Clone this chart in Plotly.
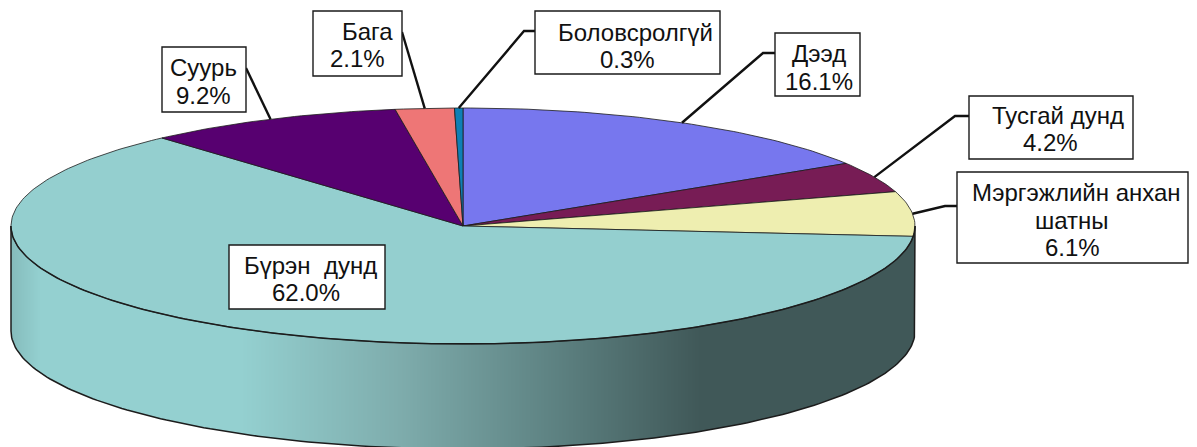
"""3D pie of education level shares, tilted and drawn on pixel sized axes."""

import numpy as np
import plotly.graph_objects as go

# clockwise from 12 o'clock
categories = ["Дээд", "Тусгай дунд", "Мэргэжлийн анхан шатны", "Бүрэн дунд",
              "Суурь", "Бага", "Боловсролгүй"]
shares = [16.1, 4.2, 6.1, 62.0, 9.2, 2.1, 0.3]
colors = ["#7777EE", "#771C55", "#EEEEB0", "#94CFCF", "#570070", "#EE7676", "#0F7FB5"]

# label text lines
label_lines = [
    ["Дээд", "16.1%"],
    ["Тусгай дунд", "4.2%"],
    ["Мэргэжлийн анхан", "шатны", "6.1%"],
    ["Бүрэн\u00a0\u00a0дунд", "62.0%"],
    ["Суурь", "9.2%"],
    ["Бага", "2.1%"],
    ["Боловсролгүй", "0.3%"],
]
# centre of each text line
label_pos = [
    [(819, 53), (819, 81)],
    [(1058, 115), (1050, 142)],
    [(1076, 192), (1072, 220), (1072, 247)],
    [(310, 265), (306, 292)],
    [(203, 67), (203, 95)],
    [(367, 31), (357, 58)],
    [(635, 32), (627, 59)],
]
# x0, y0, x1, y1
label_box = [
    (775, 33, 860, 96),
    (969, 96, 1133, 159),
    (957, 172, 1188, 263),
    (229, 245, 385, 309),
    (162, 47, 246, 112),
    (313, 11, 402, 76),
    (535, 11, 720, 74),
]
# leader path after it leaves the rim, None = no leader
leader_path = [
    [(763, 53), (775, 53)],
    [(955, 116), (969, 116)],
    [(945, 206), (957, 206)],
    None,
    [(246, 68)],
    [(402, 32)],
    [(524, 31), (535, 31)],
]

# side shading, x position -> colour
side_x = [11, 40, 240, 400, 560, 700, 915]
side_rgb = [(133, 188, 188), (148, 208, 208), (148, 208, 208), (126, 172, 172),
            (92, 128, 128), (64, 88, 88), (64, 88, 88)]

CX, CY = 463, 226
RX, RY = 452, 118
DEPTH = 105
EDGE = "#1c1c1c"


def rim(frac):
    angle = 2 * np.pi * np.asarray(frac)
    return CX + RX * np.sin(angle), CY - RY * np.cos(angle)


fig = go.Figure()

# side wall
side_cols = np.arange(CX - RX, CX + RX)
side_top = CY + RY * np.sqrt(np.clip(1 - ((side_cols + 0.5 - CX) / RX) ** 2, 0, 1))
side_colors = [
    "rgb({:.0f},{:.0f},{:.0f})".format(*[np.interp(x, side_x, [c[i] for c in side_rgb]) for i in range(3)])
    for x in side_cols
]
fig.add_trace(go.Bar(
    x=side_cols + 0.5,
    y=[DEPTH] * len(side_cols),
    base=side_top,
    width=1,
    marker=dict(color=side_colors, line_width=0),
    hoverinfo="skip",
))

# outline of the side wall
t = np.linspace(0.25, 0.75, 181)
bx, by = rim(t)
fig.add_trace(go.Scatter(
    x=np.r_[bx[0], bx, bx[-1]],
    y=np.r_[CY, by + DEPTH, CY],
    mode="lines",
    line=dict(color=EDGE, width=1.5),
    hoverinfo="skip",
))

# top slices
edges = np.cumsum([0] + shares) / 100
for i, name in enumerate(categories):
    t = np.linspace(edges[i], edges[i + 1], max(int(shares[i] * 4), 3))
    sx, sy = rim(t)
    fig.add_trace(go.Scatter(
        x=np.r_[CX, sx, CX],
        y=np.r_[CY, sy, CY],
        mode="lines",
        fill="toself",
        fillcolor=colors[i],
        line=dict(color=EDGE, width=0.8),
        name=name,
        hoverinfo="name",
    ))

# heavier front edge of the top face
t = np.linspace(0.25, 0.75, 181)
fx, fy = rim(t)
fig.add_trace(go.Scatter(
    x=fx,
    y=fy,
    mode="lines",
    line=dict(color=EDGE, width=1.5),
    hoverinfo="skip",
))

# leaders from the middle of each slice
mids = (edges[:-1] + edges[1:]) / 2
for i, path in enumerate(leader_path):
    if path is None:
        continue
    mx, my = rim(mids[i])
    fig.add_trace(go.Scatter(
        x=[mx] + [p[0] for p in path],
        y=[my] + [p[1] for p in path],
        mode="lines",
        line=dict(color="#111111", width=2.4),
        hoverinfo="skip",
    ))

# label boxes and text
for box in label_box:
    fig.add_shape(type="rect", x0=box[0], y0=box[1], x1=box[2], y1=box[3],
                  fillcolor="white", line=dict(color="#1a1a1a", width=1.4), layer="above")
for lines, pos in zip(label_lines, label_pos):
    for text, (x, y) in zip(lines, pos):
        fig.add_annotation(x=x, y=y, text=text, showarrow=False,
                           font=dict(family="Liberation Sans", size=24, color="#111111"))

fig.update_layout(
    width=1197,
    height=447,
    margin=dict(l=0, r=0, t=0, b=0),
    paper_bgcolor="white",
    plot_bgcolor="white",
    showlegend=False,
    bargap=0,
    xaxis=dict(range=[0, 1197], visible=False),
    yaxis=dict(range=[447, 0], visible=False),
)

fig.write_html("out.html", config={"displayModeBar": False},
               post_script="document.body.style.margin = '0';")
